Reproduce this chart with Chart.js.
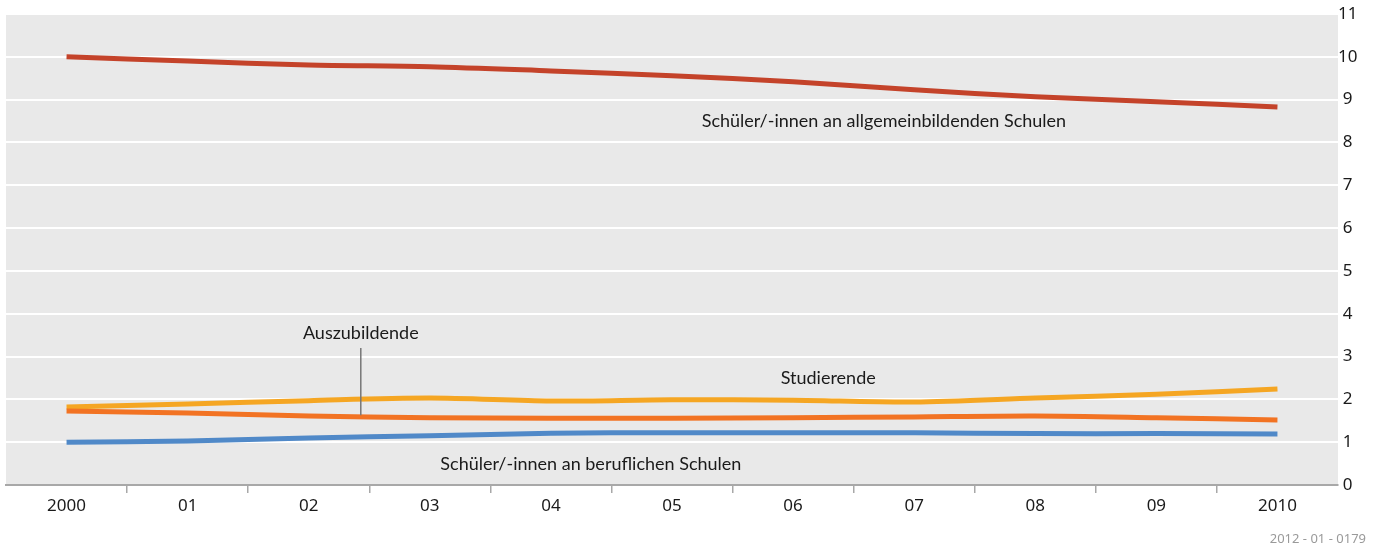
<!DOCTYPE html>
<html>
<head>
<meta charset="utf-8">
<script src="https://cdn.jsdelivr.net/npm/chart.js@4/dist/chart.umd.min.js"></script>
<style>
  html, body { margin: 0; padding: 0; background: #fff; }
  #wrap { width: 1381px; height: 549px; position: relative; }
</style>
</head>
<body>
<div id="wrap"><canvas id="lineChart"></canvas></div>
<script>
// Daten (in Millionen)
const years = ['2000', '01', '02', '03', '04', '05', '06', '07', '08', '09', '2010'];
const allgemeinbildend = [10.0, 9.9, 9.81, 9.77, 9.67, 9.56, 9.42, 9.23, 9.07, 8.95, 8.83];
const studierende = [1.82, 1.89, 1.97, 2.03, 1.96, 1.99, 1.98, 1.94, 2.03, 2.12, 2.24];
const auszubildende = [1.73, 1.68, 1.61, 1.57, 1.56, 1.56, 1.57, 1.59, 1.61, 1.57, 1.52];
const beruflich = [1.0, 1.03, 1.1, 1.15, 1.21, 1.22, 1.22, 1.22, 1.2, 1.2, 1.19];
const yTicks = [0, 1, 2, 3, 4, 5, 6, 7, 8, 9, 10, 11];

// Beschriftungen im Diagramm: Text, x-Index, y-Wert
const labelTexts = ['Schüler/-innen an allgemeinbildenden Schulen', 'Studierende', 'Auszubildende', 'Schüler/-innen an beruflichen Schulen'];
const labelX = [6.75, 6.29, 2.43, 4.33];
const labelY = [8.5, 2.5, 3.55, 0.49];
// Hinweislinie zu "Auszubildende"
const leaderX = 2.43;
const leaderFrom = 3.2;
const leaderTo = 1.63;

const FONT = '"Noto Sans", "DejaVu Sans", sans-serif';
const LABEL_FONT = 'Lato, sans-serif';

const bgPlugin = {
  id: 'bgPlugin',
  beforeDraw(chart) {
    const a = chart.chartArea, ctx = chart.ctx;
    ctx.save();
    ctx.fillStyle = '#e9e9e9';
    ctx.fillRect(a.left, a.top, a.right - a.left, a.bottom - a.top);
    ctx.restore();
  }
};

const labelPlugin = {
  id: 'labelPlugin',
  afterDatasetsDraw(chart) {
    const ctx = chart.ctx, xs = chart.scales.x, ys = chart.scales.y;
    ctx.save();
    ctx.strokeStyle = '#777';
    ctx.lineWidth = 1.5;
    ctx.beginPath();
    ctx.moveTo(xs.getPixelForValue(leaderX), ys.getPixelForValue(leaderFrom));
    ctx.lineTo(xs.getPixelForValue(leaderX), ys.getPixelForValue(leaderTo));
    ctx.stroke();
    ctx.fillStyle = '#1a1a1a';
    ctx.font = '18px ' + LABEL_FONT;
    ctx.textAlign = 'center';
    ctx.textBaseline = 'middle';
    labelTexts.forEach((t, i) => {
      ctx.fillText(t, xs.getPixelForValue(labelX[i]), ys.getPixelForValue(labelY[i]));
    });
    ctx.fillStyle = '#9a9a9a';
    ctx.font = '13px ' + FONT;
    ctx.textAlign = 'right';
    ctx.fillText('2012 - 01 - 0179', 1366, 539);
    ctx.restore();
  }
};

function lineSet(label, data, color) {
  return {
    label: label,
    data: data,
    borderColor: color,
    backgroundColor: color,
    borderWidth: 5,
    pointRadius: 0,
    tension: 0.3,
    fill: false
  };
}

const ctx = document.getElementById('lineChart').getContext('2d');
new Chart(ctx, {
  type: 'line',
  data: {
    labels: years,
    datasets: [
      lineSet('Schüler/-innen an beruflichen Schulen', beruflich, '#5089c8'),
      lineSet('Auszubildende', auszubildende, '#f27323'),
      lineSet('Studierende', studierende, '#f5a623'),
      lineSet('Schüler/-innen an allgemeinbildenden Schulen', allgemeinbildend, '#c4432a')
    ]
  },
  options: {
    responsive: true,
    maintainAspectRatio: false,
    animation: false,
    layout: { padding: { left: 6, top: 14, right: 0, bottom: 0 } },
    plugins: {
      legend: { display: false },
      tooltip: { enabled: false }
    },
    scales: {
      x: {
        offset: true,
        afterFit(scale) { scale.height = 64; },
        border: { color: '#a8a8a8', width: 2 },
        grid: {
          offset: true,
          drawOnChartArea: false,
          tickLength: 8,
          lineWidth: 1.5,
          color: (c) => (c.type !== 'tick' || c.index === 0) ? 'rgba(0,0,0,0)' : '#a8a8a8'
        },
        ticks: { color: '#1a1a1a', font: { family: FONT, size: 17 }, padding: 3, maxRotation: 0 }
      },
      y: {
        position: 'right',
        min: 0,
        max: 11,
        afterFit(scale) { scale.width = 43; },
        afterBuildTicks(scale) { scale.ticks = yTicks.map(v => ({ value: v })); },
        border: { display: false },
        grid: { color: '#ffffff', lineWidth: 2, drawTicks: false },
        ticks: { color: '#1a1a1a', font: { family: FONT, size: 17 }, crossAlign: 'center', padding: 0 }
      }
    }
  },
  plugins: [bgPlugin, labelPlugin]
});
</script>
</body>
</html>
